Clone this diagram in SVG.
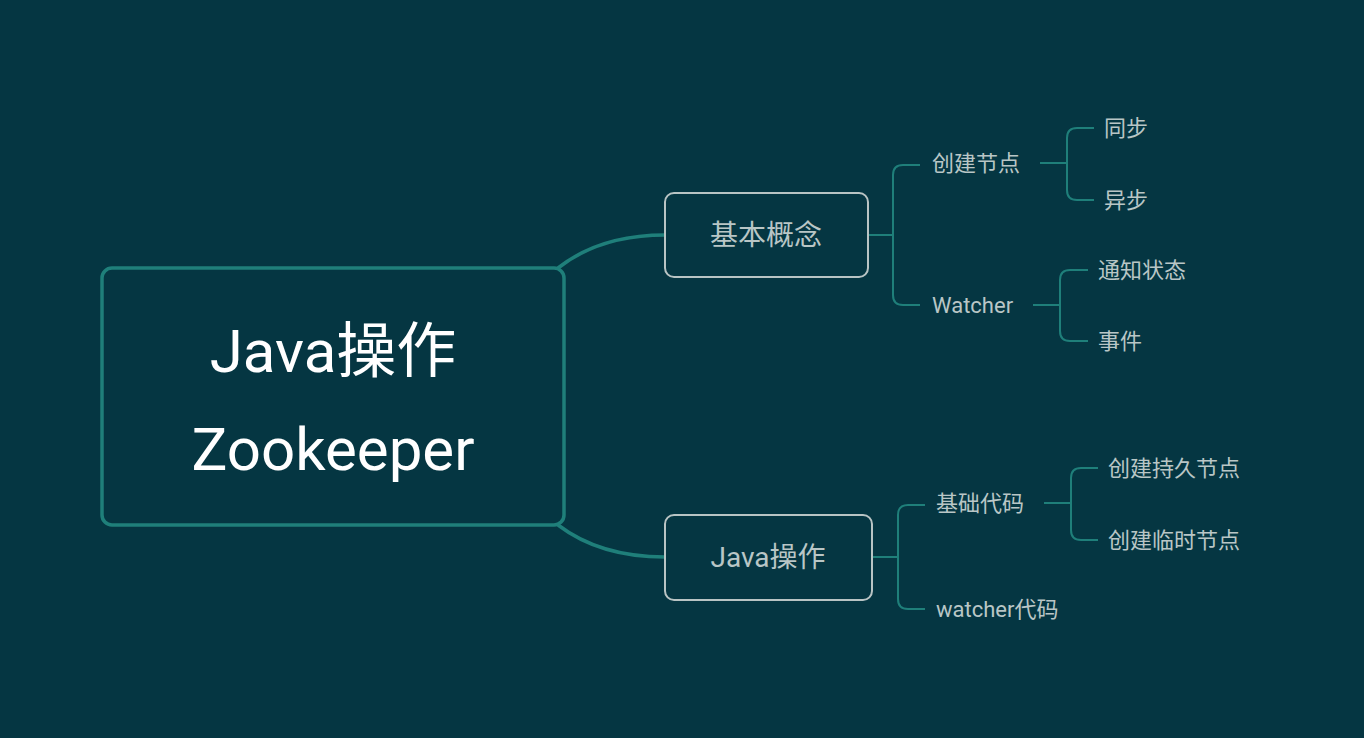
<svg xmlns="http://www.w3.org/2000/svg" width="1364" height="738" viewBox="0 0 1364 738">
<style>
.c{fill:none;stroke:#1f7f7a;stroke-width:2}
.t{font-family:Roboto,"Noto Sans CJK SC",sans-serif;fill:#b9c6c6;font-size:22px}
.m{font-family:Roboto,"Noto Sans CJK SC",sans-serif;fill:#b9c6c6;font-size:28px;text-anchor:middle}
.b{fill:#053642;stroke:#b9c4c4;stroke-width:2}
</style>
<rect width="1364" height="738" fill="#053642"/>
<g id="connectors">
<path class="c" style="stroke-width:3.5" d="M558 268 Q600 235 665 235"/>
<path class="c" style="stroke-width:3.5" d="M558 525 Q600 557 665 557"/>
<path class="c" d="M868 235 H893 M920 165 H903 Q893 165 893 175 V295 Q893 305 903 305 H920"/>
<path class="c" d="M1040 163 H1067 M1094 128 H1077 Q1067 128 1067 138 V190 Q1067 200 1077 200 H1094"/>
<path class="c" d="M1033 305 H1060 M1088 270 H1070 Q1060 270 1060 280 V331 Q1060 341 1070 341 H1088"/>
<path class="c" d="M872 557 H898 M925 505 H908 Q898 505 898 515 V599 Q898 609 908 609 H925"/>
<path class="c" d="M1044 503 H1071 M1098 468 H1081 Q1071 468 1071 478 V530 Q1071 540 1081 540 H1098"/>
</g>
<g id="root">
<rect x="102" y="268" width="462" height="257" rx="10" fill="#053642" stroke="#1f7f7a" stroke-width="3.5"/>
<text x="333" y="372" text-anchor="middle" font-family="Roboto,'Noto Sans CJK SC',sans-serif" font-size="60" fill="#ffffff">Java操作</text>
<text x="333" y="470" text-anchor="middle" font-family="Roboto,'Noto Sans CJK SC',sans-serif" font-size="60" fill="#ffffff">Zookeeper</text>
</g>
<g id="n1"><rect class="b" x="665" y="193" width="203" height="84" rx="9"/><text class="m" x="766" y="245">基本概念</text></g>
<g id="n2"><rect class="b" x="665" y="515" width="207" height="85" rx="9"/><text class="m" x="768" y="567">Java操作</text></g>
<g id="n3"><text class="t" x="932" y="171">创建节点</text></g>
<g id="n4"><text class="t" x="1104" y="136">同步</text></g>
<g id="n5"><text class="t" x="1104" y="208">异步</text></g>
<g id="n6"><text class="t" x="932" y="313">Watcher</text></g>
<g id="n7"><text class="t" x="1098" y="278">通知状态</text></g>
<g id="n8"><text class="t" x="1098" y="349">事件</text></g>
<g id="n9"><text class="t" x="936" y="511">基础代码</text></g>
<g id="n10"><text class="t" x="1108" y="476">创建持久节点</text></g>
<g id="n11"><text class="t" x="1108" y="548">创建临时节点</text></g>
<g id="n12"><text class="t" x="936" y="617">watcher代码</text></g>
</svg>
